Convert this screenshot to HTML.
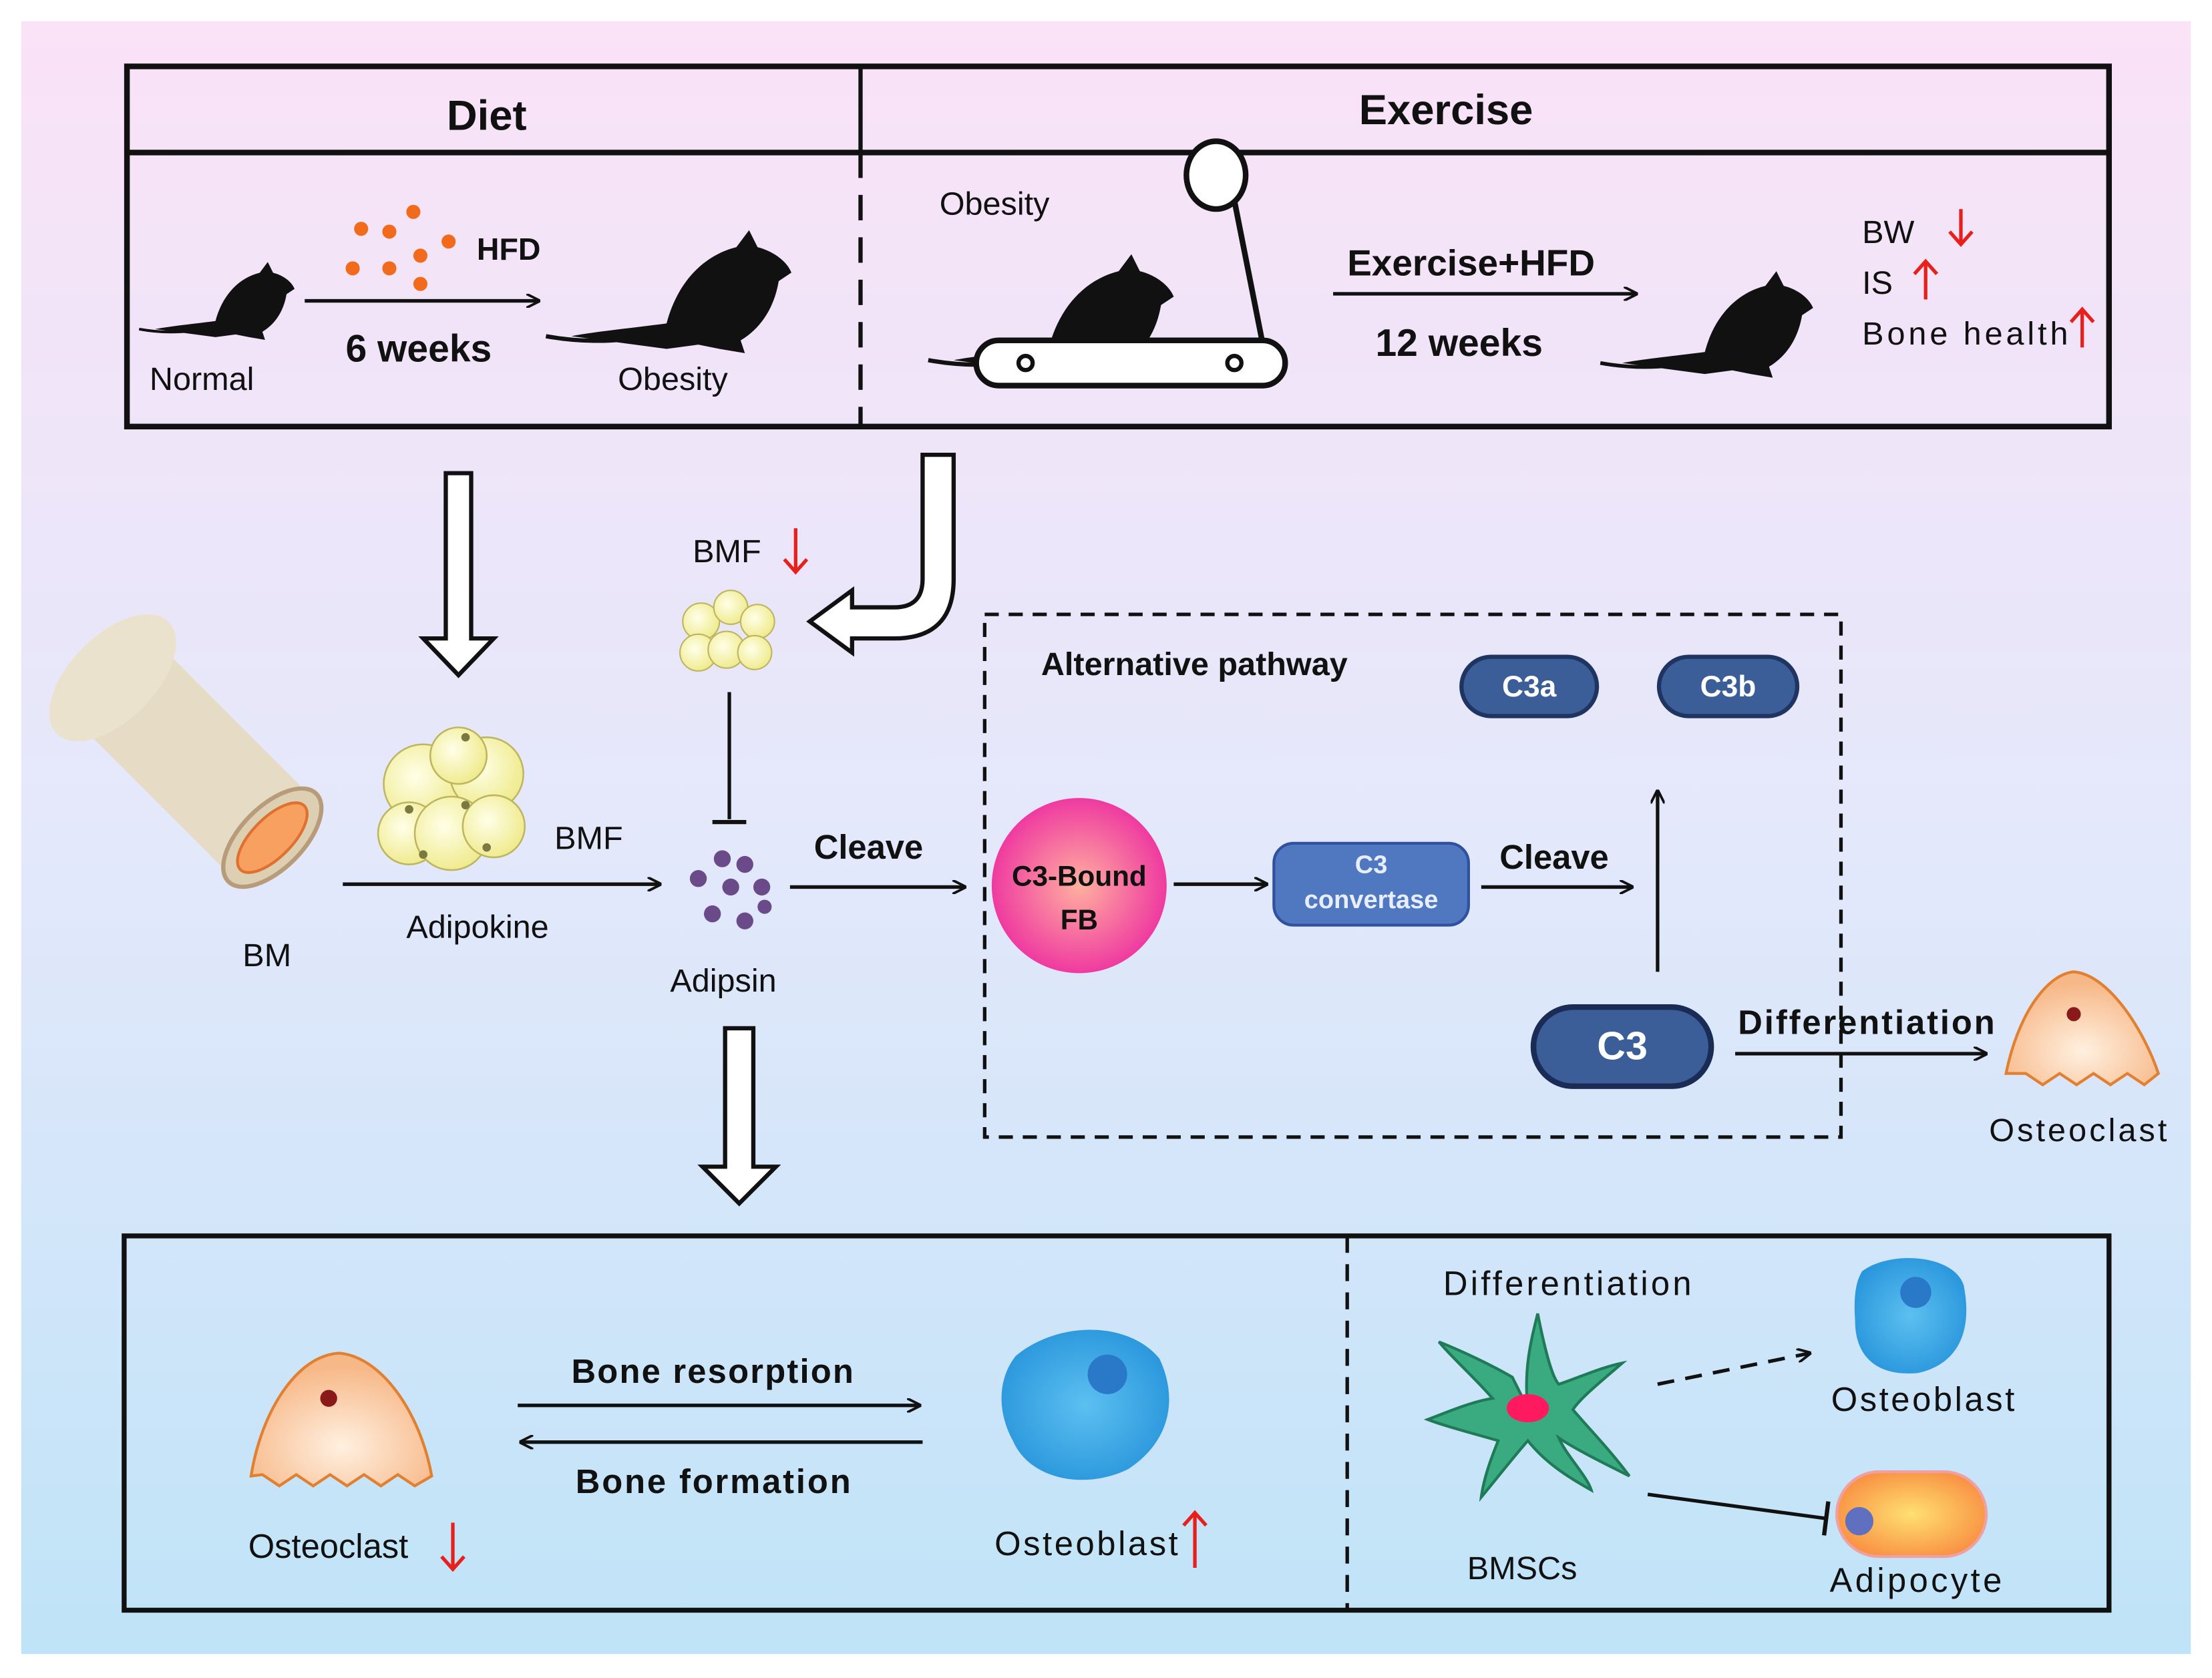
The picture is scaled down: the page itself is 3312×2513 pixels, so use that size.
<!DOCTYPE html>
<html><head><meta charset="utf-8"><style>
html,body{margin:0;padding:0;background:#fff}
svg{display:block}
text{font-family:"Liberation Sans",sans-serif;fill:#111}
.b{font-weight:bold}
</style></head><body>
<svg width="3312" height="2513" viewBox="0 0 1568 1188" preserveAspectRatio="none" xmlns="http://www.w3.org/2000/svg">
<defs>
<linearGradient id="bg" x1="0" y1="0" x2="0" y2="1">
<stop offset="0" stop-color="#fae2f7"/><stop offset="0.5" stop-color="#e4e8fb"/><stop offset="1" stop-color="#bfe3f8"/>
</linearGradient>
<radialGradient id="c3fb" cx="0.5" cy="0.5" r="0.5"><stop offset="0" stop-color="#ffb0a0"/><stop offset="1" stop-color="#ef3aa0"/></radialGradient>
<radialGradient id="ob" cx="0.5" cy="0.5" r="0.55"><stop offset="0" stop-color="#5cc0f0"/><stop offset="1" stop-color="#2a96dc"/></radialGradient>
<radialGradient id="oc" cx="0.5" cy="0.7" r="0.6"><stop offset="0" stop-color="#fff0e0"/><stop offset="1" stop-color="#f7b888"/></radialGradient>
<radialGradient id="ad" cx="0.5" cy="0.5" r="0.6"><stop offset="0" stop-color="#ffe070"/><stop offset="1" stop-color="#f88a40"/></radialGradient>
<radialGradient id="fat" cx="0.4" cy="0.4" r="0.6"><stop offset="0" stop-color="#ffffe8"/><stop offset="1" stop-color="#f0eb90"/></radialGradient>
<marker id="ar" markerWidth="10" markerHeight="10" refX="9" refY="5" orient="auto" markerUnits="userSpaceOnUse"><path d="M0,0 L10,5 L0,10" fill="none" stroke="#111" stroke-width="1.8"/></marker>
<g id="mouse"><path d="M0,40 C10,38 30,36 45,34 C50,15 62,2 78,-2 L84,-10 L88,-2 C96,0 102,5 104,10 L98,14 C96,26 90,36 80,42 L82,48 L70,46 L60,44 L45,46 Z" fill="#111"/><path d="M45,38 C30,42 10,44 -12,40" stroke="#111" stroke-width="2" fill="none"/></g>
</defs>
<rect x="15" y="15" width="1538" height="1156" fill="url(#bg)"/>

<!-- top box -->
<rect x="90" y="47" width="1405" height="255" fill="none" stroke="#111" stroke-width="4"/>
<line x1="90" y1="108" x2="1495" y2="108" stroke="#111" stroke-width="4"/>
<line x1="610" y1="47" x2="610" y2="108" stroke="#111" stroke-width="3"/>
<line x1="610" y1="108" x2="610" y2="302" stroke="#111" stroke-width="3" stroke-dasharray="18,12"/>
<text x="345" y="92" font-size="30" class="b" text-anchor="middle">Diet</text>
<text x="1025" y="88" font-size="30" class="b" text-anchor="middle">Exercise</text>

<g transform="translate(110,195) scale(0.95)"><use href="#mouse"/></g>
<text x="106" y="276" font-size="23">Normal</text>
<g fill="#f26b1d"><circle cx="293" cy="150" r="5"/><circle cx="256" cy="162" r="5"/><circle cx="276" cy="164" r="5"/><circle cx="318" cy="171" r="5"/><circle cx="298" cy="181" r="5"/><circle cx="250" cy="190" r="5"/><circle cx="276" cy="190" r="5"/><circle cx="298" cy="201" r="5"/></g>
<text x="338" y="184" font-size="22" class="b">HFD</text>
<line x1="216" y1="213" x2="382" y2="213" stroke="#111" stroke-width="2.5" marker-end="url(#ar)"/>
<text x="245" y="256" font-size="27" class="b">6 weeks</text>
<g transform="translate(405,178) scale(1.5)"><use href="#mouse"/></g>
<text x="438" y="276" font-size="23">Obesity</text>

<text x="666" y="152" font-size="23">Obesity</text>
<g transform="translate(676,195) scale(1.5)"><use href="#mouse"/></g>
<ellipse cx="862" cy="124" rx="21" ry="24" fill="#fff" stroke="#111" stroke-width="4"/>
<line x1="875" y1="142" x2="895" y2="243" stroke="#111" stroke-width="4"/>
<rect x="692" y="241" width="219" height="32" rx="16" fill="#fff" stroke="#111" stroke-width="4"/>
<circle cx="727" cy="257" r="5" fill="none" stroke="#111" stroke-width="3"/>
<circle cx="875" cy="257" r="5" fill="none" stroke="#111" stroke-width="3"/>
<text x="955" y="195" font-size="26" class="b">Exercise+HFD</text>
<line x1="945" y1="208" x2="1160" y2="208" stroke="#111" stroke-width="2.5" marker-end="url(#ar)"/>
<text x="975" y="252" font-size="27" class="b">12 weeks</text>
<g transform="translate(1150,205) scale(1.3)"><use href="#mouse"/></g>
<text x="1320" y="172" font-size="23">BW</text>
<text x="1320" y="208" font-size="23">IS</text>
<text x="1320" y="244" font-size="23" textLength="146">Bone health</text>
<g stroke="#e8201c" stroke-width="2.5" fill="none">
<line x1="1390" y1="148" x2="1390" y2="172"/><path d="M1382,164 L1390,173 L1398,164"/>
<line x1="1365" y1="212" x2="1365" y2="186"/><path d="M1357,194 L1365,185 L1373,194"/>
<line x1="1476" y1="246" x2="1476" y2="220"/><path d="M1468,228 L1476,219 L1484,228"/>
</g>

<!-- hollow arrows -->
<path d="M316,335 L334,335 L334,452 L350,452 L325,478 L300,452 L316,452 Z" fill="#fff" stroke="#111" stroke-width="3"/>
<path d="M654,322 L676,322 L676,410 Q676,452 634,452 L604,452 L604,462 L574,440 L604,418 L604,430 L634,430 Q654,430 654,410 Z" fill="#fff" stroke="#111" stroke-width="3"/>
<path d="M514,728 L534,728 L534,826 L550,826 L524,852 L498,826 L514,826 Z" fill="#fff" stroke="#111" stroke-width="3"/>

<!-- bone -->
<g transform="rotate(45 140 540)">
<rect x="55" y="500" width="160" height="80" rx="14" fill="#e6dcc6"/>
<ellipse cx="55" cy="540" rx="30" ry="56" fill="#ebe2cd"/>
<ellipse cx="215" cy="540" rx="22" ry="44" fill="#dccfb2" stroke="#b89c7a" stroke-width="3"/>
<ellipse cx="215" cy="540" rx="14" ry="32" fill="#f8a060" stroke="#e07030" stroke-width="2"/>
</g>
<text x="172" y="684" font-size="23">BM</text>

<!-- adipocyte cluster -->
<g fill="url(#fat)" stroke="#bdb560" stroke-width="1.2">
<circle cx="300" cy="555" r="28"/><circle cx="345" cy="548" r="26"/><circle cx="325" cy="535" r="20"/><circle cx="290" cy="590" r="22"/><circle cx="320" cy="590" r="26"/><circle cx="350" cy="585" r="22"/>
</g>
<g fill="#7a7a40"><circle cx="330" cy="522" r="3"/><circle cx="290" cy="573" r="3"/><circle cx="330" cy="570" r="3"/><circle cx="300" cy="605" r="3"/><circle cx="345" cy="600" r="3"/></g>
<text x="393" y="601" font-size="23">BMF</text>
<text x="288" y="664" font-size="23">Adipokine</text>
<line x1="243" y1="626" x2="468" y2="626" stroke="#111" stroke-width="2.5" marker-end="url(#ar)"/>

<text x="491" y="398" font-size="23">BMF</text>
<g stroke="#e8201c" stroke-width="2.5" fill="none"><line x1="564" y1="374" x2="564" y2="404"/><path d="M556,396 L564,405 L572,396"/></g>
<g fill="url(#fat)" stroke="#bdb560" stroke-width="1"><circle cx="497" cy="440" r="13"/><circle cx="518" cy="430" r="12"/><circle cx="537" cy="440" r="12"/><circle cx="495" cy="462" r="13"/><circle cx="515" cy="460" r="13"/><circle cx="535" cy="462" r="12"/></g>
<line x1="517" y1="490" x2="517" y2="580" stroke="#111" stroke-width="2.5"/>
<line x1="505" y1="582" x2="529" y2="582" stroke="#111" stroke-width="3"/>
<g fill="#6b4a8a"><circle cx="512" cy="608" r="6"/><circle cx="528" cy="612" r="6"/><circle cx="495" cy="622" r="6"/><circle cx="518" cy="628" r="6"/><circle cx="540" cy="628" r="6"/><circle cx="505" cy="647" r="6"/><circle cx="528" cy="652" r="6"/><circle cx="542" cy="642" r="5"/></g>
<text x="475" y="702" font-size="23">Adipsin</text>
<line x1="560" y1="628" x2="684" y2="628" stroke="#111" stroke-width="2.5" marker-end="url(#ar)"/>
<text x="577" y="608" font-size="24" class="b">Cleave</text>

<!-- alt pathway -->
<rect x="698" y="435" width="607" height="370" fill="none" stroke="#111" stroke-width="2.5" stroke-dasharray="10,7"/>
<text x="738" y="478" font-size="23" class="b">Alternative pathway</text>
<rect x="1036" y="465" width="96" height="42" rx="21" fill="#3b5e98" stroke="#1f3460" stroke-width="3"/>
<text x="1084" y="493" font-size="21" class="b" text-anchor="middle" style="fill:#fff">C3a</text>
<rect x="1176" y="465" width="98" height="42" rx="21" fill="#3b5e98" stroke="#1f3460" stroke-width="3"/>
<text x="1225" y="493" font-size="21" class="b" text-anchor="middle" style="fill:#fff">C3b</text>
<circle cx="765" cy="627" r="62" fill="url(#c3fb)"/>
<text x="765" y="627" font-size="20" class="b" text-anchor="middle">C3-Bound</text>
<text x="765" y="658" font-size="20" class="b" text-anchor="middle">FB</text>
<line x1="832" y1="626" x2="898" y2="626" stroke="#111" stroke-width="2.5" marker-end="url(#ar)"/>
<rect x="903" y="597" width="138" height="58" rx="14" fill="#4f78c0" stroke="#3050a0" stroke-width="2"/>
<text x="972" y="618" font-size="18" class="b" text-anchor="middle" style="fill:#e8eeff">C3</text>
<text x="972" y="643" font-size="18" class="b" text-anchor="middle" style="fill:#e8eeff">convertase</text>
<line x1="1050" y1="628" x2="1157" y2="628" stroke="#111" stroke-width="2.5" marker-end="url(#ar)"/>
<text x="1063" y="615" font-size="24" class="b">Cleave</text>
<line x1="1175" y1="688" x2="1175" y2="560" stroke="#111" stroke-width="2.5" marker-end="url(#ar)"/>
<rect x="1087" y="713" width="126" height="56" rx="28" fill="#3b5e98" stroke="#1a2c55" stroke-width="4"/>
<text x="1150" y="750" font-size="28" class="b" text-anchor="middle" style="fill:#fff">C3</text>
<line x1="1230" y1="746" x2="1408" y2="746" stroke="#111" stroke-width="2.5" marker-end="url(#ar)"/>
<text x="1232" y="732" font-size="24" class="b" textLength="182">Differentiation</text>
<path d="M1422,760 C1430,720 1450,690 1470,688 C1495,690 1520,730 1530,760 L1520,768 L1508,760 L1496,768 L1484,760 L1472,768 L1460,760 L1448,768 L1436,760 Z" fill="url(#oc)" stroke="#e08030" stroke-width="2"/>
<circle cx="1470" cy="718" r="5" fill="#8a1a1a"/>
<text x="1410" y="808" font-size="23" textLength="126">Osteoclast</text>

<!-- bottom box -->
<rect x="88" y="875" width="1407" height="265" fill="none" stroke="#111" stroke-width="3.5"/>
<line x1="955" y1="875" x2="955" y2="1140" stroke="#111" stroke-width="2.5" stroke-dasharray="12,8"/>
<path d="M178,1045 C185,1000 210,960 240,958 C270,960 298,1000 306,1045 L294,1052 L282,1044 L270,1052 L258,1044 L246,1052 L234,1044 L222,1052 L210,1044 L198,1052 L186,1044 Z" fill="url(#oc)" stroke="#e08030" stroke-width="2"/>
<circle cx="233" cy="990" r="6" fill="#8a1a1a"/>
<text x="176" y="1103" font-size="24">Osteoclast</text>
<g stroke="#e8201c" stroke-width="2.5" fill="none"><line x1="321" y1="1078" x2="321" y2="1110"/><path d="M313,1102 L321,1111 L329,1102"/></g>
<text x="405" y="979" font-size="24" class="b" textLength="200">Bone resorption</text>
<line x1="367" y1="995" x2="652" y2="995" stroke="#111" stroke-width="2.5" marker-end="url(#ar)"/>
<line x1="654" y1="1021" x2="369" y2="1021" stroke="#111" stroke-width="2.5" marker-end="url(#ar)"/>
<text x="408" y="1057" font-size="24" class="b" textLength="195">Bone formation</text>
<path d="M720,960 C750,935 800,935 822,962 C835,990 830,1020 800,1040 C770,1055 730,1048 718,1020 C706,998 708,975 720,960 Z" fill="url(#ob)"/>
<circle cx="785" cy="973" r="14" fill="#2a78c8"/>
<text x="705" y="1101" font-size="24" textLength="130">Osteoblast</text>
<g stroke="#e8201c" stroke-width="2.5" fill="none"><line x1="847" y1="1110" x2="847" y2="1072"/><path d="M839,1080 L847,1071 L855,1080"/></g>

<text x="1023" y="917" font-size="24" textLength="176">Differentiation</text>
<path d="M1083,997 C1080,970 1085,950 1090,930 C1095,955 1100,975 1105,980 C1120,975 1135,968 1150,965 C1135,978 1120,990 1115,998 C1125,1010 1140,1025 1155,1045 C1135,1035 1115,1025 1105,1018 C1110,1030 1125,1045 1128,1055 C1110,1045 1095,1035 1083,1020 C1070,1035 1060,1048 1050,1060 C1052,1045 1058,1030 1062,1020 C1045,1015 1025,1010 1012,1005 C1030,998 1045,992 1058,990 C1045,975 1030,962 1020,950 C1040,958 1060,968 1072,975 Z" fill="#3aaa80" stroke="#1f7a58" stroke-width="2"/>
<ellipse cx="1083" cy="997" rx="15" ry="10" fill="#ff1a60"/>
<text x="1040" y="1118" font-size="23">BMSCs</text>
<line x1="1175" y1="980" x2="1283" y2="958" stroke="#111" stroke-width="2.5" stroke-dasharray="12,8" marker-end="url(#ar)"/>
<path d="M1320,900 C1340,885 1385,888 1392,910 C1398,940 1390,965 1360,972 C1330,975 1315,960 1315,935 C1314,920 1315,908 1320,900 Z" fill="url(#ob)"/>
<circle cx="1358" cy="915" r="11" fill="#2a78c8"/>
<text x="1298" y="999" font-size="24" textLength="130">Osteoblast</text>
<line x1="1168" y1="1058" x2="1294" y2="1075" stroke="#111" stroke-width="2.5"/>
<line x1="1296" y1="1063" x2="1293" y2="1087" stroke="#111" stroke-width="3"/>
<rect x="1302" y="1042" width="106" height="60" rx="30" fill="url(#ad)" stroke="#f0a0a0" stroke-width="2"/>
<circle cx="1318" cy="1077" r="10" fill="#6070c0"/>
<text x="1297" y="1127" font-size="24" textLength="122">Adipocyte</text>
</svg>
</body></html>
